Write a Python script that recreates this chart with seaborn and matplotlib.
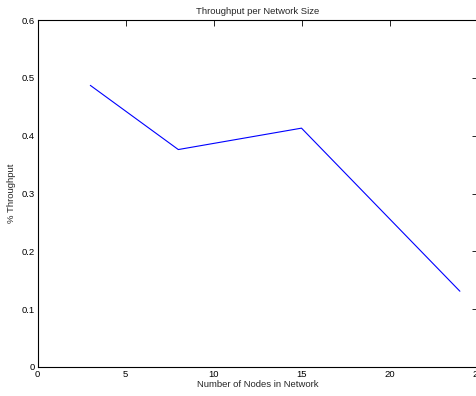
import matplotlib
matplotlib.use("Agg")
import matplotlib.pyplot as plt
import seaborn as sns
import pandas as pd

nodes = [3, 8, 15, 24]
throughput = [0.487, 0.376, 0.413, 0.131]
x_ticks = [0, 5, 10, 15, 20, 25]
y_ticks = [0, 0.1, 0.2, 0.3, 0.4, 0.5, 0.6]
y_tick_labels = ["0", "0.1", "0.2", "0.3", "0.4", "0.5", "0.6"]

sns.set_style("white")
plt.rcParams['font.family'] = ['Liberation Sans', 'DejaVu Sans']

W, H = 476, 396
fig = plt.figure(figsize=(W / 100, H / 100), dpi=100)
left, right, bottom, top = 37.5, 477.5, 367, 20
ax = fig.add_axes([left / W, (H - bottom) / H, (right - left) / W, (bottom - top) / H])

df = pd.DataFrame({"nodes": nodes, "throughput": throughput})
sns.lineplot(data=df, x="nodes", y="throughput", ax=ax, color="#0000ff", linewidth=0.8)

ax.set_xlim(0, 25)
ax.set_ylim(0, 0.6)
ax.set_xticks(x_ticks)
ax.set_xticklabels([str(t) for t in x_ticks])
ax.set_yticks(y_ticks)
ax.set_yticklabels(y_tick_labels)
ax.tick_params(direction="in", length=4, width=0.6, labelsize=6.8, colors="black",
               top=True, right=True, pad=2)
for s in ax.spines.values():
    s.set_visible(True)
    s.set_color("black")
    s.set_linewidth(0.8)
ax.set_title("Throughput per Network Size", fontsize=6.8, pad=4)
ax.set_xlabel("Number of Nodes in Network", fontsize=6.8, labelpad=1)
ax.set_ylabel("% Throughput", fontsize=6.8, labelpad=4)

fig.savefig("out.png", dpi=100)
